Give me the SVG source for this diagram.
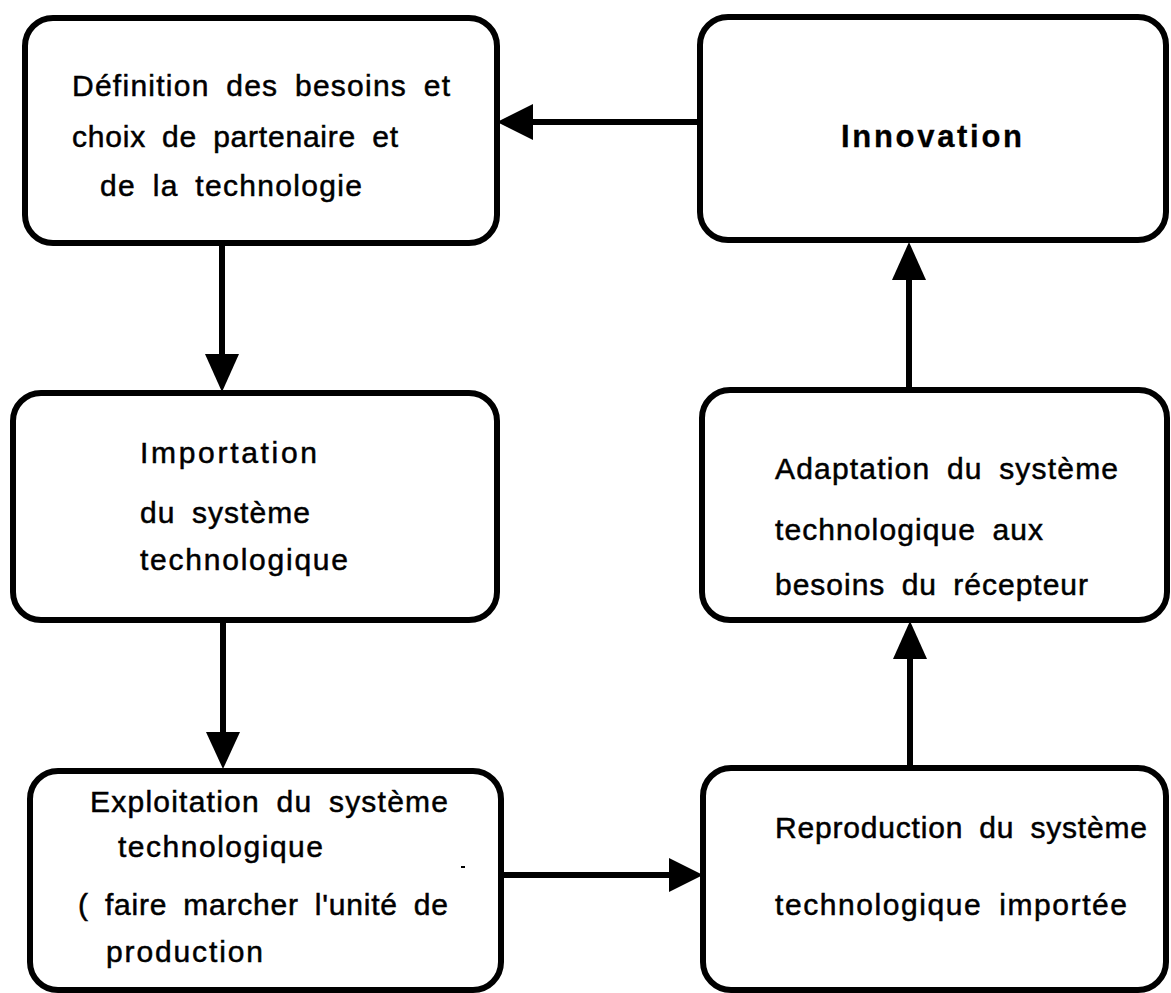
<svg xmlns="http://www.w3.org/2000/svg" width="1171" height="993" viewBox="0 0 1171 993">
<style>
.box{fill:#fff;stroke:#000;stroke-width:6}
.t{font-family:"Liberation Sans",Arial,sans-serif;font-size:30px;fill:#000;stroke:#000;stroke-width:0.5;word-spacing:7px}
.b{font-weight:bold;font-size:31px;stroke-width:0.3}
.ln{stroke:#000;stroke-width:6;fill:none}
.hd{fill:#000}
</style>
<rect width="1171" height="993" fill="#fff"/>
<g id="connectors">
<line class="ln" x1="700" y1="122" x2="528" y2="122"/>
<polygon class="hd" points="497,122 533,104 533,140"/>
<line class="ln" x1="222" y1="243" x2="222" y2="358"/>
<polygon class="hd" points="222,392 205,354 239,354"/>
<line class="ln" x1="223" y1="620" x2="223" y2="736"/>
<polygon class="hd" points="223,769 206,732 240,732"/>
<line class="ln" x1="501" y1="875" x2="674" y2="875"/>
<polygon class="hd" points="703,875 669,858 669,892"/>
<line class="ln" x1="910" y1="768" x2="910" y2="655"/>
<polygon class="hd" points="910,621 893,659 927,659"/>
<line class="ln" x1="909" y1="390" x2="909" y2="277"/>
<polygon class="hd" points="909,242 892,280 926,280"/>
</g>
<g id="n1">
<rect class="box" x="25" y="18" width="472" height="225" rx="28"/>
<text class="t" x="72" y="96" textLength="378" lengthAdjust="spacing">Définition des besoins et</text>
<text class="t" x="72" y="147" textLength="326" lengthAdjust="spacing">choix de partenaire et</text>
<text class="t" x="100" y="196" textLength="262" lengthAdjust="spacing">de la technologie</text>
</g>
<g id="n2">
<rect class="box" x="700" y="17" width="466" height="223" rx="28"/>
<text class="t b" x="841" y="147" textLength="181" lengthAdjust="spacing">Innovation</text>
</g>
<g id="n3">
<rect class="box" x="13" y="393" width="484" height="227" rx="28"/>
<text class="t" x="140" y="463" textLength="177" lengthAdjust="spacing">Importation</text>
<text class="t" x="140" y="523" textLength="170" lengthAdjust="spacing">du système</text>
<text class="t" x="140" y="570" textLength="208" lengthAdjust="spacing">technologique</text>
</g>
<g id="n4">
<rect class="box" x="702" y="390" width="465" height="230" rx="28"/>
<text class="t" x="775" y="479" textLength="343" lengthAdjust="spacing">Adaptation du système</text>
<text class="t" x="775" y="540" textLength="268" lengthAdjust="spacing">technologique aux</text>
<text class="t" x="775" y="595" textLength="313" lengthAdjust="spacing">besoins du récepteur</text>
</g>
<g id="n5">
<rect class="box" x="30" y="771" width="471" height="219" rx="28"/>
<text class="t" x="90" y="812" textLength="358" lengthAdjust="spacing">Exploitation du système</text>
<text class="t" x="118" y="857" textLength="205" lengthAdjust="spacing">technologique</text>
<text class="t" x="78" y="915" textLength="370" lengthAdjust="spacing">( faire marcher l'unité de</text>
<text class="t" x="106" y="962" textLength="157" lengthAdjust="spacing">production</text>
<rect x="461" y="866" width="4" height="2" fill="#000"/>
</g>
<g id="n6">
<rect class="box" x="703" y="768" width="463" height="222" rx="28"/>
<text class="t" x="775" y="838" textLength="372" lengthAdjust="spacing">Reproduction du système</text>
<text class="t" x="775" y="915" textLength="352" lengthAdjust="spacing">technologique importée</text>
</g>
</svg>
